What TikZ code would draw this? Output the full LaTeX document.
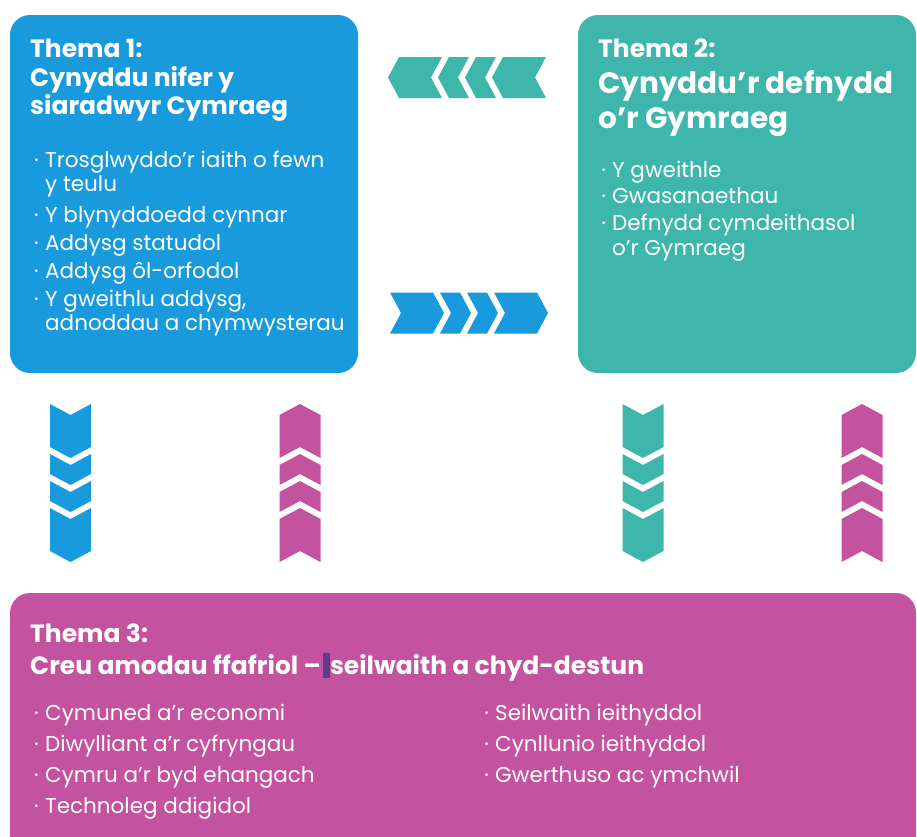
\documentclass[tikz,border=0pt]{standalone}
\usepackage{fontspec}
\setmainfont{Poppins}
\definecolor{tblue}{RGB}{24,154,220}
\definecolor{tteal}{RGB}{62,182,172}
\definecolor{tmag}{RGB}{195,82,159}
\definecolor{tcur}{RGB}{96,58,140}
\newcommand\chevrow[3]{%
\begin{scope}[shift={#1},rotate=#2]
\foreach \a/\w in {0/54,50/31,77/31,104/54}
  \fill[#3] (\a,-20.5) -- (\a+\w-11,-20.5) -- (\a+\w,0) -- (\a+\w-11,20.5) -- (\a,20.5) -- (\a+11,0) -- cycle;
\end{scope}}
\begin{document}
\begin{tikzpicture}[x=1pt,y=-1pt,
  box/.style={rounded corners=20pt},
  ttl/.style={anchor=base west,inner sep=0pt,text=white,font=\fontsize{25}{29}\selectfont\bfseries},
  ttlbig/.style={ttl,font=\fontsize{29.5}{33}\selectfont\bfseries},
  itm/.style={anchor=base west,inner sep=0pt,text=white,font=\fontsize{21.5}{25}\selectfont},
  bul/.style={anchor=base east,inner sep=0pt,text=white,font=\fontsize{21.5}{25}\selectfont}]
\useasboundingbox (0,0) rectangle (917,836);
\clip (0,0) rectangle (917,836);
\newcommand\bl[4]{\node[itm] (#1) at (#2,#3) {#4}; \node[bul] (#1-b) at ([xshift=-6pt]#1.base west) {·};}
% boxes
\fill[tblue,box] (10,15) rectangle (358,373);
\fill[tteal,box] (578,15) rectangle (916,373);
\fill[tmag,box] (10,593) rectangle (916,860);
% box 1
\node[ttl] (h1a) at (30,57) {Thema 1:};
\node[ttl] (h1b) at (30,86) {Cynyddu nifer y};
\node[ttl] (h1c) at (30,114) {siaradwyr Cymraeg};
\bl{a1}{45}{167}{Trosglwyddo’r iaith o fewn}
\node[itm] (a1w) at (45,191) {y teulu};
\bl{a2}{45}{222}{Y blynyddoedd cynnar}
\bl{a3}{45}{250}{Addysg statudol}
\bl{a4}{45}{278}{Addysg ôl-orfodol}
\bl{a5}{45}{306}{Y gweithlu addysg,}
\node[itm] (a5w) at (45,330) {adnoddau a chymwysterau};
% box 2
\node[ttl] (h2a) at (598,57) {Thema 2:};
\node[ttlbig] (h2b) at (598,93) {Cynyddu’r defnydd};
\node[ttlbig] (h2c) at (598,128) {o’r Gymraeg};
\bl{b1}{612}{177}{Y gweithle}
\bl{b2}{612}{203}{Gwasanaethau}
\bl{b3}{612}{230}{Defnydd cymdeithasol}
\node[itm] (b3w) at (612,255) {o’r Gymraeg};
% box 3
\node[ttl] (h3a) at (30,642) {Thema 3:};
\node[ttl] (h3b) at (30,674) {Creu amodau ffafriol –\hspace{2pt}\textcolor{tcur}{\rule[-4pt]{7pt}{25pt}}seilwaith a chyd-destun};
\bl{c1}{45}{720}{Cymuned a’r economi}
\bl{c2}{45}{751}{Diwylliant a’r cyfryngau}
\bl{c3}{45}{782}{Cymru a’r byd ehangach}
\bl{c4}{45}{813}{Technoleg ddigidol}
\bl{d1}{495}{720}{Seilwaith ieithyddol}
\bl{d2}{495}{751}{Cynllunio ieithyddol}
\bl{d3}{495}{782}{Gwerthuso ac ymchwil}
% chevron arrows
\chevrow{(546,77.5)}{180}{tteal}
\chevrow{(390,313)}{0}{tblue}
\chevrow{(70.5,404)}{-90}{tblue}
\chevrow{(300,562)}{90}{tmag}
\chevrow{(643,404)}{-90}{tteal}
\chevrow{(862,562)}{90}{tmag}
\end{tikzpicture}
\end{document}
